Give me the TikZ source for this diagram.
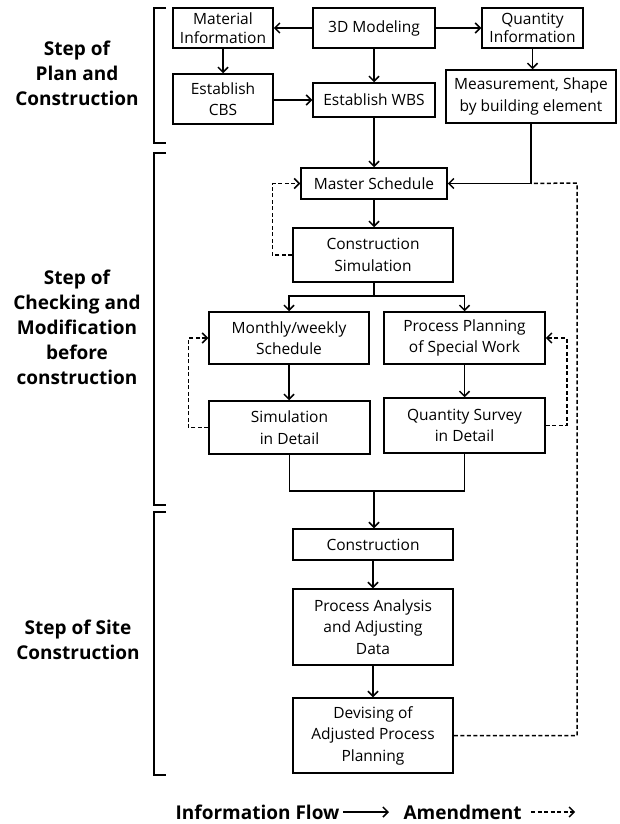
\documentclass[tikz,border=0pt]{standalone}
\usepackage{fontspec}
\setmainfont{Open Sans}
\usepackage{tikz}
\usetikzlibrary{arrows.meta}
\usetikzlibrary{positioning}

\tikzset{
  box/.style={draw, line width=1.5pt, align=center, inner sep=0pt,
    font=\fontsize{15.5}{21.5}\selectfont},
  flow/.style={line width=1.5pt, -{Straight Barb[length=5pt,width=10pt,line width=1.5pt]}},
  amend/.style={flow, dash pattern=on 4pt off 2.5pt},
  stage/.style={align=center, font=\bfseries\fontsize{19}{25}\selectfont},
  bracketline/.style={line width=1.5pt}
}

\begin{document}
\begin{tikzpicture}[x=1pt,y=-1pt]

			\useasboundingbox (0,0) rectangle (620,824);

			% step of plan and construction
			\node[box, minimum width=122pt, minimum height=40pt] (model) at (374,28) {3D Modeling};
			\node[box, minimum width=100pt, minimum height=40pt] (mat) at (223,28) {Material\\[-3pt]Information};
			\node[box, minimum width=101pt, minimum height=40pt] (qty) at (532.5,28) {Quantity\\[-3pt]Information};
			\node[box, minimum width=100pt, minimum height=50pt] (cbs) at (223,99) {Establish\\CBS};
			\node[box, minimum width=122pt, minimum height=34pt] (wbs) at (374,100) {Establish WBS};
			\node[box, minimum width=170pt, minimum height=53pt] (meas) at (531,96.5) {Measurement, Shape\\by building element};

			\draw[flow] (model.west) -- (mat.east);
			\draw[flow] (model.east) -- (qty.west);
			\draw[flow] (mat.south) -- (cbs.north);
			\draw[flow] (model.south) -- (wbs.north);
			\draw[flow] (qty.south) -- (qty.south |- meas.north);
			\draw[flow] (cbs.east |- wbs.west) -- (wbs.west);

			% step of checking and modification
			\node[box, minimum width=146pt, minimum height=31pt] (master) at (374,183.5) {Master Schedule};
			\node[box, minimum width=160pt, minimum height=54pt] (csim) at (373,255) {Construction\\Simulation};
			\node[box, minimum width=160pt, minimum height=52pt] (month) at (289,338) {Monthly/weekly\\Schedule};
			\node[box, minimum width=161pt, minimum height=52pt] (spec) at (464.5,338) {Process Planning\\of Special Work};
			\node[box, minimum width=161pt, minimum height=53pt] (simd) at (289.5,427.5) {Simulation\\in Detail};
			\node[box, minimum width=161pt, minimum height=55pt] (qsur) at (464.5,425.5) {Quantity Survey\\in Detail};

			\coordinate (feed) at (meas.south |- master.east);
			\coordinate (fork) at (374,296);
			\coordinate (merge) at (374,491);

			\draw[flow] (wbs.south) -- (master.north);
			\draw[flow] (meas.south) -- (feed) -- (master.east);
			\draw[flow] (master.south) -- (csim.north -| master.south);
			\draw[line width=1.5pt] (csim.south -| fork) -- (fork);
			\draw[flow] (fork) -| (month.north);
			\draw[flow] (fork) -| (spec.north);
			\draw[flow] (month.south) -- (month.south |- simd.north);
			\draw[flow] (spec.south) -- (qsur.north);
			\draw[line width=1.5pt] (simd.south) |- (merge) -| (qsur.south);

			%dashed loops
			\draw[amend] (csim.west) -- ++(-20,0) |- (master.west);
			\draw[amend] (simd.west) -- ++(-20,0) |- (month.west);
			\draw[amend] (qsur.east) -- ++(21,0) |- (spec.east);

			% step of site construction
			\node[box, minimum width=160pt, minimum height=31pt] (constr) at (373,544.5) {Construction};
			\node[box, minimum width=160pt, minimum height=76pt] (anal) at (373,627) {Process Analysis\\and Adjusting\\Data};
			\node[box, minimum width=160pt, minimum height=75pt] (devis) at (373,735.5) {Devising of\\Adjusted Process\\Planning};

			\draw[flow] (merge) -- (merge |- constr.north);
			\draw[flow] (constr.south) -- (anal.north);
			\draw[flow] (anal.south) -- (devis.north);

			\coordinate (back) at (577,183);
			\draw[amend, -] (devis.east) -| (back) -- (feed);

			% brackets
			\draw[bracketline] (166,8) -- (154,8) -- (154,143) -- (166,143);
			\draw[bracketline] (166,153) -- (154,153) -- (154,505) -- (166,505);
			\draw[bracketline] (166,512) -- (154,512) -- (154,775) -- (166,775);

			%labels stages
			\node[stage] (plan) at (77,73) {Step of\\Plan and\\Construction};
			\node[stage] (check) at (77,327) {Step of\\Checking and\\Modification\\before\\construction};
			\node[stage] (site) at (78,640) {Step of Site\\Construction};

			% legend
			\node[stage, anchor=east] (info) at (343,812) {Information Flow};
			\node[stage, anchor=west] (amendtext) at (400,812) {Amendment};
			\draw[flow, line width=1.2pt] (info.east) -- ++(46,0);
			\draw[amend, line width=1.2pt] (amendtext.east) ++(6,0) -- ++(44,0);

\end{tikzpicture}
\end{document}
